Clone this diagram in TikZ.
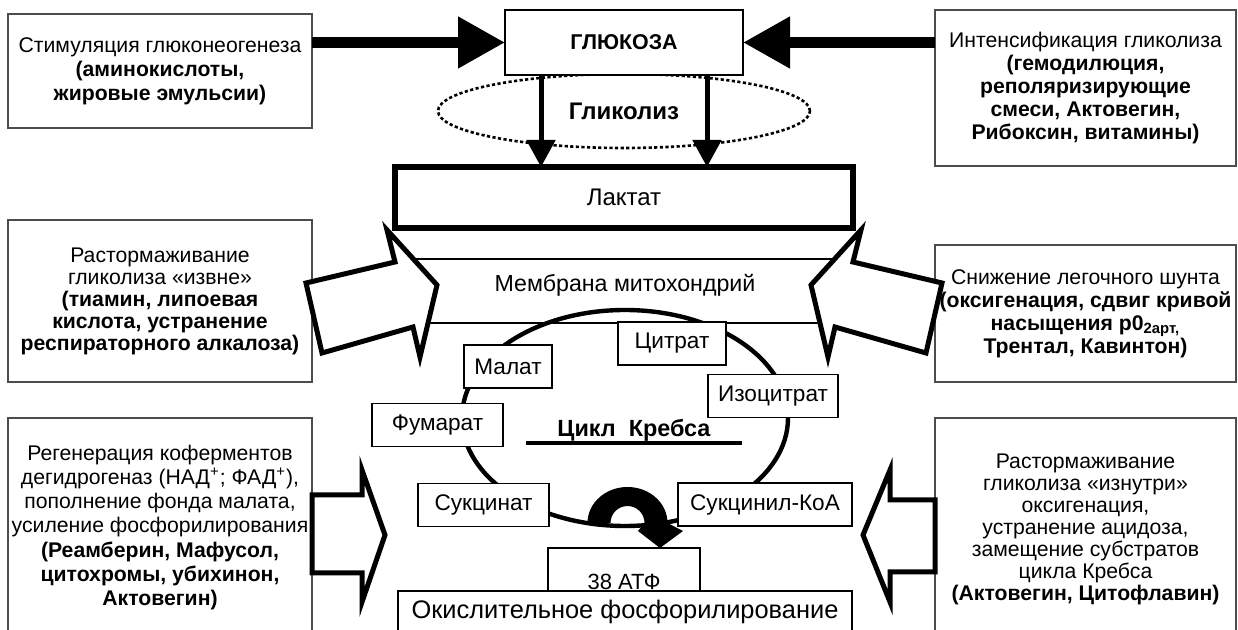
\documentclass[tikz,border=0pt]{standalone}
\usepackage{fontspec}
\setmainfont{Liberation Sans}
\usetikzlibrary{arrows.meta,shapes.geometric}
\begin{document}
\begin{tikzpicture}[x=0.5pt, y=-0.5pt, every node/.style={inner sep=0pt, outer sep=0pt},
  sidebox/.style={draw=black!70, line width=0.6pt, fill=white, align=center, font=\fontsize{10.6}{#1}\selectfont},
  sidebox/.default=11.5,
  cyclebox/.style={draw, line width=0.9pt, fill=white, minimum height=21.5pt, font=\fontsize{11.3}{13}\selectfont},
  bigarrow/.style={line width=5.5pt, -{Triangle[length=23.5pt, width=24.5pt]}},
  downarrow/.style={line width=2.5pt, -{Triangle[length=13.5pt, width=14pt]}},
  blockarrow/.style={draw, line width=2.5pt, fill=white, line join=miter}]
\useasboundingbox (0,0) rectangle (1238,630);
\clip (0,0) rectangle (1238,630);
\fill[white] (0,0) rectangle (1238,630);
\node[draw, ellipse, line width=1.3pt, dash pattern=on 1.6pt off 1.2pt, minimum width=186pt, minimum height=37pt, font=\bfseries\fontsize{12}{14}\selectfont] (glyco) at (624,111) {Гликолиз};
\node[draw, line width=0.8pt, fill=white, minimum width=119pt, minimum height=32.5pt, font=\bfseries\fontsize{10.7}{12}\selectfont] (glucose) at (624,42.5) {ГЛЮКОЗА};
\node[sidebox=12, minimum width=152pt, minimum height=57pt] (stim) at (160,71) {Стимуляция глюконеогенеза\\\textbf{(аминокислоты,}\\\textbf{жировые эмульсии)}};
\node[sidebox=11.5, minimum width=150.5pt, minimum height=78pt] (intens) at (1085.5,88) {Интенсификация гликолиза\\\textbf{(гемодилюция,}\\\textbf{реполяризирующие}\\\textbf{смеси, Актовегин,}\\\textbf{Рибоксин, витамины)}};
\draw[bigarrow] (stim.east |- glucose.west) -- (glucose.west);
\draw[bigarrow] (intens.west |- glucose.east) -- (glucose.east);
\node[draw, line width=3pt, fill=white, minimum width=229pt, minimum height=30.5pt, font=\fontsize{12}{14}\selectfont] (lactate) at (624,197.5) {Лактат};
\draw[downarrow] ([xshift=18pt]glucose.south west) -- ([xshift=73pt]lactate.north west);
\draw[downarrow] ([xshift=-18pt]glucose.south east) -- ([xshift=-73pt]lactate.north east);
\draw[line width=0.75pt] (404,259) -- (844,259);
\draw[line width=0.75pt] (415,323) -- (833,323);
\node[font=\fontsize{11.6}{13}\selectfont] (membrane) at (625,285) {Мембрана митохондрий};
\node[draw, ellipse, line width=2.2pt, minimum width=163pt, minimum height=108pt] (krebs) at (625,418) {};
\node[font=\bfseries\fontsize{11.7}{13}\selectfont] (krebsname) at (634,430) {Цикл\ \ Кребса};
\draw[line width=1.75pt] (526,443) -- (742,443);
\node[cyclebox, minimum width=54pt] (citrate) at (672,343.5) {Цитрат};
\node[cyclebox, minimum width=44pt] (malate) at (508,366.5) {Малат};
\node[cyclebox, minimum width=65pt] (isocitrate) at (773,396) {Изоцитрат};
\node[cyclebox, minimum width=65.5pt] (fumarate) at (437.5,425) {Фумарат};
\node[cyclebox, minimum width=65.5pt] (succinate) at (483.5,505) {Сукцинат};
\node[cyclebox, minimum width=87pt] (succoa) at (765,504.5) {Сукцинил-КоА};
\fill (587.5,523) arc[start angle=180, end angle=360, x radius=40, y radius=36] -- (683,531) -- (660,548) -- (638,531) -- (644.5,523) arc[start angle=0, end angle=-180, radius=17] -- cycle;
\node[draw, line width=0.8pt, fill=white, minimum width=76pt, minimum height=34pt, font=\fontsize{11}{13}\selectfont] (atp) at (624,582) {38 АТФ};
\node[draw, line width=0.8pt, fill=white, minimum width=227pt, minimum height=21pt, font=\fontsize{12.7}{14}\selectfont] (oxid) at (625,612) {Окислительное фосфорилирование};
\node[sidebox=11, minimum width=152pt, minimum height=81pt] (extern) at (160,301) {Растормаживание\\гликолиза «извне»\\\textbf{(тиамин, липоевая}\\\textbf{кислота, устранение}\\\textbf{респираторного алкалоза)}};
\node[sidebox=11.5, minimum width=150.5pt, minimum height=68.5pt] (shunt) at (1085.5,313.5) {Снижение легочного шунта\\\textbf{(оксигенация, сдвиг кривой}\\\textbf{насыщения р0\textsubscript{2арт,}}\\\textbf{Трентал, Кавинтон)}};
\node[sidebox=12.15, minimum width=152pt, minimum height=109.5pt] (regen) at (160,527.5) {Регенерация коферментов\\дегидрогеназ (НАД\textsuperscript{+}; ФАД\textsuperscript{+}),\\пополнение фонда малата,\\усиление фосфорилирования\\\textbf{(Реамберин, Мафусол,}\\\textbf{цитохромы, убихинон,}\\\textbf{Актовегин)}};
\node[sidebox=11, minimum width=150.5pt, minimum height=111pt] (intern) at (1085.5,529) {Растормаживание\\гликолиза «изнутри»\\оксигенация,\\устранение ацидоза,\\замещение субстратов\\цикла Кребса\\\textbf{(Актовегин, Цитофлавин)}};
\draw[blockarrow] (306,283) -- (395,262) -- (387,230) -- (437,285) -- (420,357) -- (413,327) -- (322,353) -- cycle;
\draw[blockarrow] (942,283) -- (853,262) -- (861,230) -- (811,285) -- (828,357) -- (835,327) -- (926,353) -- cycle;
\draw[blockarrow] (312,495) -- (362,495) -- (362,470) -- (385,535) -- (362,602) -- (362,573) -- (312,573) -- cycle;
\draw[blockarrow] (935,500) -- (890,500) -- (890,470) -- (863,535) -- (890,602) -- (890,572) -- (935,572) -- cycle;
\end{tikzpicture}
\end{document}
